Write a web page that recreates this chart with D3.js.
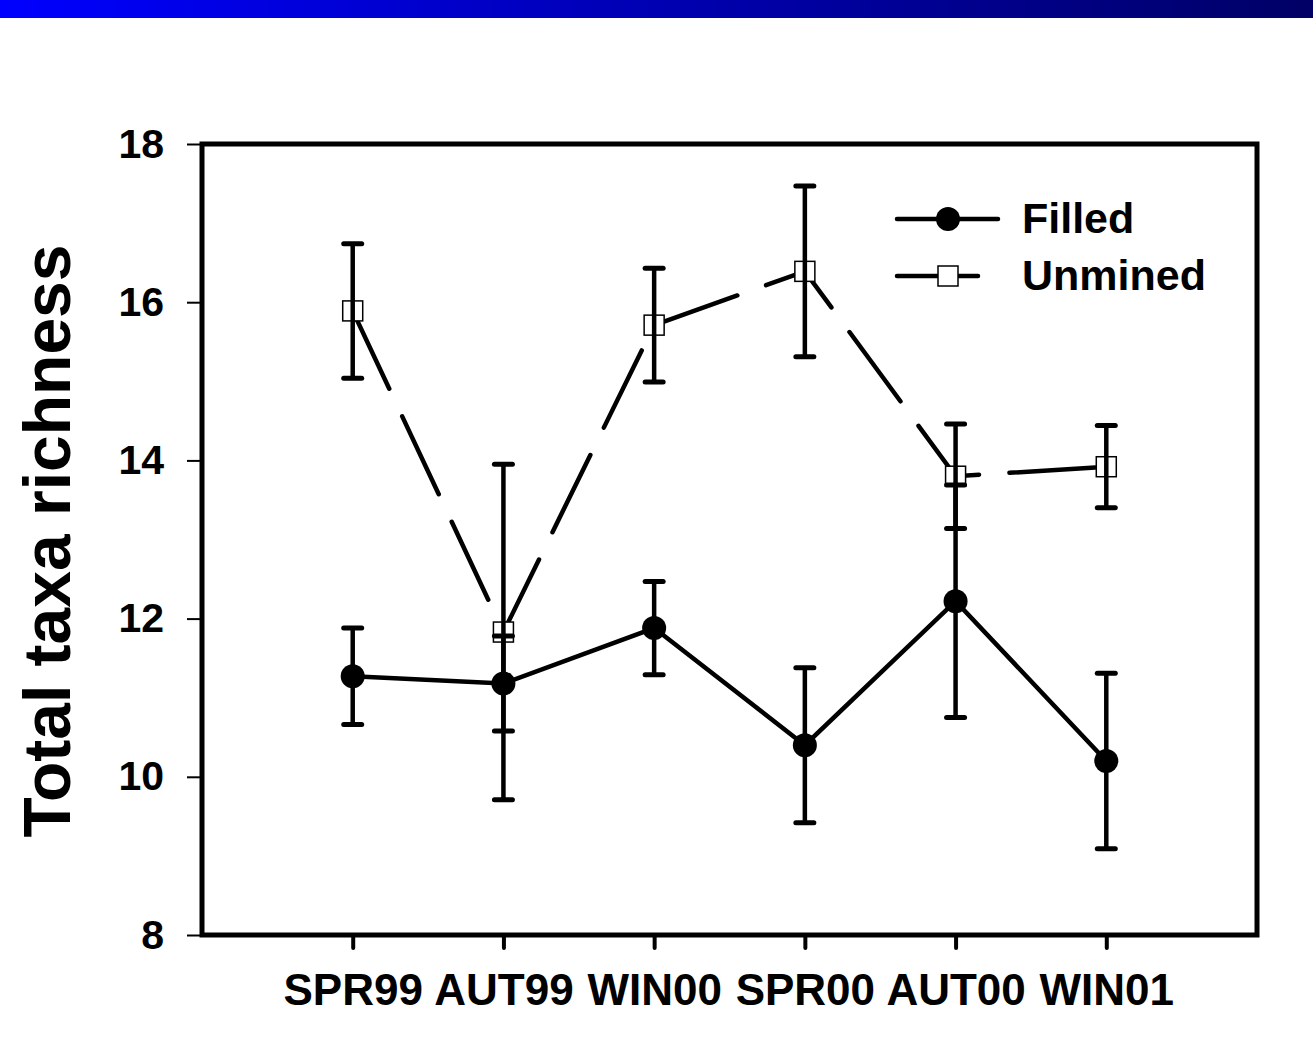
<!DOCTYPE html>
<html>
<head>
<meta charset="utf-8">
<script src="https://d3js.org/d3.v7.min.js"></script>
<style>
  body { margin: 0; background: #fff; }
  svg { display: block; font-family: 'Liberation Sans', Arial, sans-serif; font-weight: bold; }
</style>
</head>
<body>
<script>
// data
var seasons = ['SPR99', 'AUT99', 'WIN00', 'SPR00', 'AUT00', 'WIN01'];
var filledMean = [11.27, 11.18, 11.88, 10.40, 12.22, 10.20];
var filledErr = [0.61, 0.60, 0.59, 0.98, 1.47, 1.11];
var unminedMean = [15.89, 11.83, 15.71, 16.39, 13.80, 13.92];
var unminedErr = [0.85, 2.12, 0.72, 1.08, 0.66, 0.52];
var yTicks = [8, 10, 12, 14, 16, 18];

var width = 1313, height = 1054;
var margin = {top: 144, right: 56, bottom: 119, left: 202};
var w = width - margin.left - margin.right;
var h = height - margin.top - margin.bottom;

var svg = d3.select('body').append('svg')
            .attr('width', width)
            .attr('height', height);

// blue banner at the top
var grad = svg.append('defs').append('linearGradient')
              .attr('id', 'banner')
              .attr('x1', '0%').attr('x2', '100%');
grad.append('stop').attr('offset', '0%').attr('stop-color', '#0000ff');
grad.append('stop').attr('offset', '100%').attr('stop-color', '#000066');
svg.append('rect')
   .attr('width', width)
   .attr('height', 18)
   .attr('fill', 'url(#banner)');

var xScale = d3.scaleLinear().domain([0, seasons.length + 1]).range([0, w]);
var yScale = d3.scaleLinear().domain([8, 18]).range([h, 0]);

var focus = svg.append('g')
               .attr('transform', 'translate(' + margin.left + ',' + margin.top + ')');

// axes
var yAxis = d3.axisLeft(yScale).tickValues(yTicks).tickSize(15).tickPadding(23);
var gy = focus.append('g').call(yAxis);
gy.select('.domain').remove();
gy.selectAll('line').attr('stroke', '#000').attr('stroke-width', 2);
gy.selectAll('text')
  .attr('font-size', 41)
  .attr('font-weight', 'bold')
  .attr('font-family', "'Liberation Sans', Arial, sans-serif")
  .attr('fill', '#000');

var xAxis = d3.axisBottom(xScale)
              .tickValues(d3.range(1, seasons.length + 1))
              .tickFormat(function(d) { return seasons[d - 1]; })
              .tickSize(13)
              .tickPadding(26);
var gx = focus.append('g').attr('transform', 'translate(0,' + h + ')').call(xAxis);
gx.select('.domain').remove();
gx.selectAll('line').attr('stroke', '#000').attr('stroke-width', 4).attr('stroke-linecap', 'round');
gx.selectAll('text')
  .attr('font-size', 44)
  .attr('font-weight', 'bold')
  .attr('font-family', "'Liberation Sans', Arial, sans-serif")
  .attr('fill', '#000');

// frame
focus.append('rect')
     .attr('width', w)
     .attr('height', h)
     .attr('fill', 'none')
     .attr('stroke', '#000')
     .attr('stroke-width', 5);

var line = d3.line()
             .x(function(d, i) { return xScale(i + 1); })
             .y(function(d) { return yScale(d); });

focus.append('path')
     .datum(unminedMean)
     .attr('d', line)
     .attr('fill', 'none')
     .attr('stroke', '#000')
     .attr('stroke-width', 4.5)
     .attr('stroke-linecap', 'round')
     .attr('stroke-dasharray', '86,30.5');

focus.append('path')
     .datum(filledMean)
     .attr('d', line)
     .attr('fill', 'none')
     .attr('stroke', '#000')
     .attr('stroke-width', 4.5);

// symbols
focus.selectAll('.filled')
     .data(filledMean)
     .enter().append('circle')
     .attr('class', 'filled')
     .attr('cx', function(d, i) { return xScale(i + 1); })
     .attr('cy', function(d) { return yScale(d); })
     .attr('r', 12)
     .attr('fill', '#000');

focus.selectAll('.unmined')
     .data(unminedMean)
     .enter().append('rect')
     .attr('class', 'unmined')
     .attr('x', function(d, i) { return xScale(i + 1) - 10; })
     .attr('y', function(d) { return yScale(d) - 10; })
     .attr('width', 20)
     .attr('height', 20)
     .attr('fill', '#fff')
     .attr('stroke', '#000')
     .attr('stroke-width', 1.5);

// error bars drawn on top of the symbols
function errorBars(means, errs) {
  var g = focus.append('g');
  means.forEach(function(m, i) {
    var x = xScale(i + 1);
    g.append('line')
     .attr('x1', x).attr('x2', x)
     .attr('y1', yScale(m + errs[i])).attr('y2', yScale(m - errs[i]))
     .attr('stroke', '#000').attr('stroke-width', 4.5);
    [m + errs[i], m - errs[i]].forEach(function(v) {
      g.append('line')
       .attr('x1', x - 9).attr('x2', x + 9)
       .attr('y1', yScale(v)).attr('y2', yScale(v))
       .attr('stroke', '#000').attr('stroke-width', 5)
       .attr('stroke-linecap', 'round');
    });
  });
}
errorBars(filledMean, filledErr);
errorBars(unminedMean, unminedErr);

// legend
var legend = svg.append('g');
legend.append('line')
      .attr('x1', 897).attr('x2', 998).attr('y1', 219).attr('y2', 219)
      .attr('stroke', '#000').attr('stroke-width', 4.5).attr('stroke-linecap', 'round');
legend.append('circle')
      .attr('cx', 948).attr('cy', 219).attr('r', 12).attr('fill', '#000');
legend.append('text')
      .attr('x', 1022).attr('y', 233)
      .attr('font-size', 43)
      .text('Filled');
legend.append('line')
      .attr('x1', 897).attr('x2', 978).attr('y1', 276).attr('y2', 276)
      .attr('stroke', '#000').attr('stroke-width', 4.5).attr('stroke-linecap', 'round');
legend.append('rect')
      .attr('x', 938).attr('y', 266).attr('width', 20).attr('height', 20)
      .attr('fill', '#fff').attr('stroke', '#000').attr('stroke-width', 1.5);
legend.append('text')
      .attr('x', 1022).attr('y', 290)
      .attr('font-size', 43)
      .text('Unmined');

// y axis title
svg.append('text')
   .attr('text-anchor', 'middle')
   .attr('transform', 'translate(70,541)rotate(-90)')
   .attr('font-size', 66)
   .text('Total taxa richness');
</script>
</body>
</html>
